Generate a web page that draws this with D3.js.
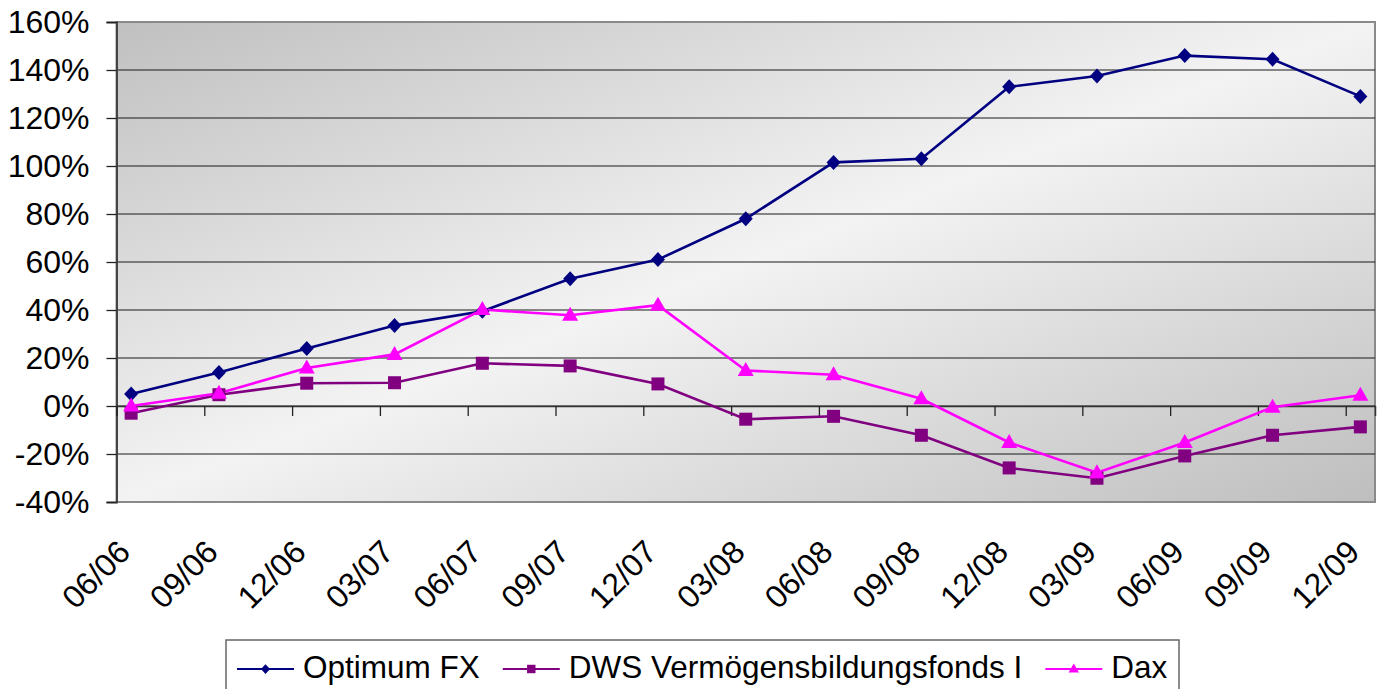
<!DOCTYPE html>
<html>
<head>
<meta charset="utf-8">
<script src="https://cdn.jsdelivr.net/npm/d3@7"></script>
<style>
  body { margin: 0; background: #fff; }
  text { font-family: "Liberation Sans", Arial, sans-serif; fill: #000; }
</style>
</head>
<body>
<div class="chart"></div>
<script>
// quarter labels
let quarters = ["06/06", "09/06", "12/06", "03/07", "06/07", "09/07", "12/07", "03/08",
    "06/08", "09/08", "12/08", "03/09", "06/09", "09/09", "12/09"];

// performance in %
let optimumFx = [5, 14, 24, 33.5, 39.5, 53, 61, 78, 101.5, 103, 133, 137.5, 146, 144.5, 129];
let dwsFonds = [-3, 4.7, 9.5, 9.7, 17.8, 16.7, 9.2, -5.5, -4.3, -12.2, -25.8, -30.1, -20.8, -12.2, -8.7];
let dax = [0, 5.3, 15.8, 21.5, 40.2, 37.8, 42, 14.8, 13, 3, -15.2, -27.8, -15.2, -0.5, 4.5];

let yTicks = [-40, -20, 0, 20, 40, 60, 80, 100, 120, 140, 160];

let svgWidth = 1382;
let svgHeight = 689;
let fontSize = "32px";

let plot = { left: 116.5, top: 22, right: 1375, bottom: 502 };

let svg = d3.select(".chart")
    .append("svg")
    .attr("width", svgWidth)
    .attr("height", svgHeight);

let xScale = d3.scaleLinear()
    .domain([-1 / 6, quarters.length - 1 + 1 / 6])
    .range([plot.left, plot.right]);

let yScale = d3.scaleLinear()
    .domain([-40, 160])
    .range([plot.bottom, plot.top]);

// background gradient
let defs = svg.append("defs");
let grad = defs.append("linearGradient")
    .attr("id", "bg")
    .attr("x1", 0).attr("y1", 0)
    .attr("x2", 1).attr("y2", 1);
grad.append("stop").attr("offset", "0%").attr("stop-color", "#c0c0c0");
grad.append("stop").attr("offset", "50%").attr("stop-color", "#f3f3f3");
grad.append("stop").attr("offset", "100%").attr("stop-color", "#bebebe");

svg.append("rect")
    .attr("x", plot.left)
    .attr("y", plot.top)
    .attr("width", plot.right - plot.left)
    .attr("height", plot.bottom - plot.top)
    .attr("fill", "url(#bg)")
    .attr("stroke", "#8a8a8a")
    .attr("stroke-width", 2);

// gridlines
svg.append("g")
    .selectAll("line")
    .data(yTicks.slice(1, -1))
    .enter()
    .append("line")
    .attr("x1", plot.left)
    .attr("x2", plot.right)
    .attr("y1", d => yScale(d))
    .attr("y2", d => yScale(d))
    .attr("stroke", "#1a1a1a")
    .attr("stroke-width", 1.2);

// y axis
let leftAxis = d3.axisLeft(yScale)
    .tickValues(yTicks)
    .tickSize(10)
    .tickPadding(17)
    .tickFormat(d => d + "%");

let yAxis = svg.append("g")
    .attr("transform", `translate(${plot.left}, 0)`)
    .call(leftAxis);
yAxis.select(".domain").attr("stroke", "#444").attr("stroke-width", 2);
yAxis.selectAll(".tick line").attr("stroke", "#222").attr("stroke-width", 1.3);
yAxis.selectAll("text")
    .style("font-size", fontSize)
    .attr("fill", "#000");

// x axis at 0%
let tickPos = quarters.map((q, i) => i - 1 / 6);
let bottomAxis = d3.axisBottom(xScale)
    .tickValues(tickPos)
    .tickSize(10)
    .tickFormat("");

let xAxis = svg.append("g")
    .attr("transform", `translate(0, ${yScale(0)})`)
    .call(bottomAxis);
xAxis.select(".domain").attr("stroke", "#333").attr("stroke-width", 1.5);
xAxis.selectAll(".tick line").attr("stroke", "#222").attr("stroke-width", 1.3);

// rotated category labels
svg.append("g")
    .selectAll("text")
    .data(quarters)
    .enter()
    .append("text")
    .attr("transform", (d, i) => `translate(${xScale(i) + 1}, 554) rotate(-45)`)
    .attr("text-anchor", "end")
    .style("font-size", fontSize)
    .text(d => d);

// series
let series = [
    { name: "Optimum FX", values: optimumFx, color: "#000080", symbol: "diamond" },
    { name: "DWS Vermögensbildungsfonds I", values: dwsFonds, color: "#800080", symbol: "square" },
    { name: "Dax", values: dax, color: "#ff00ff", symbol: "triangle" }
];

function markerPath(type, s) {
    if (type === "diamond") {
        return `M0,${-7.5 * s}L${7 * s},0L0,${7.5 * s}L${-7 * s},0Z`;
    } else if (type === "square") {
        return `M${-6.5 * s},${-6.5 * s}H${6.5 * s}V${6.5 * s}H${-6.5 * s}Z`;
    }
    return `M0,${-8.5 * s}L${8 * s},${5.5 * s}L${-8 * s},${5.5 * s}Z`;
}

let line = d3.line()
    .x((d, i) => xScale(i))
    .y(d => yScale(d));

series.forEach(function (s) {
    svg.append("path")
        .datum(s.values)
        .attr("d", line)
        .attr("fill", "none")
        .attr("stroke", s.color)
        .attr("stroke-width", 2.6);
});

series.forEach(function (s) {
    svg.append("g")
        .selectAll("path")
        .data(s.values)
        .enter()
        .append("path")
        .attr("transform", (d, i) => `translate(${xScale(i)}, ${yScale(d)})`)
        .attr("d", markerPath(s.symbol, 1))
        .attr("fill", s.color);
});

// legend
let legend = svg.append("g");
legend.append("rect")
    .attr("x", 226)
    .attr("y", 640)
    .attr("width", 953)
    .attr("height", 60)
    .attr("fill", "#fff")
    .attr("stroke", "#666")
    .attr("stroke-width", 1.5);

let lx = 237;
series.forEach(function (s) {
    let item = legend.append("g");
    item.append("line")
        .attr("x1", lx).attr("x2", lx + 57)
        .attr("y1", 669).attr("y2", 669)
        .attr("stroke", s.color)
        .attr("stroke-width", 2.2);
    item.append("path")
        .attr("transform", `translate(${lx + 28.5}, 669)`)
        .attr("d", markerPath(s.symbol, 0.65))
        .attr("fill", s.color);
    let t = item.append("text")
        .attr("x", lx + 66)
        .attr("y", 678)
        .style("font-size", "31.5px")
        .text(s.name);
    lx = lx + 66 + t.node().getComputedTextLength() + 23;
});
</script>
</body>
</html>
